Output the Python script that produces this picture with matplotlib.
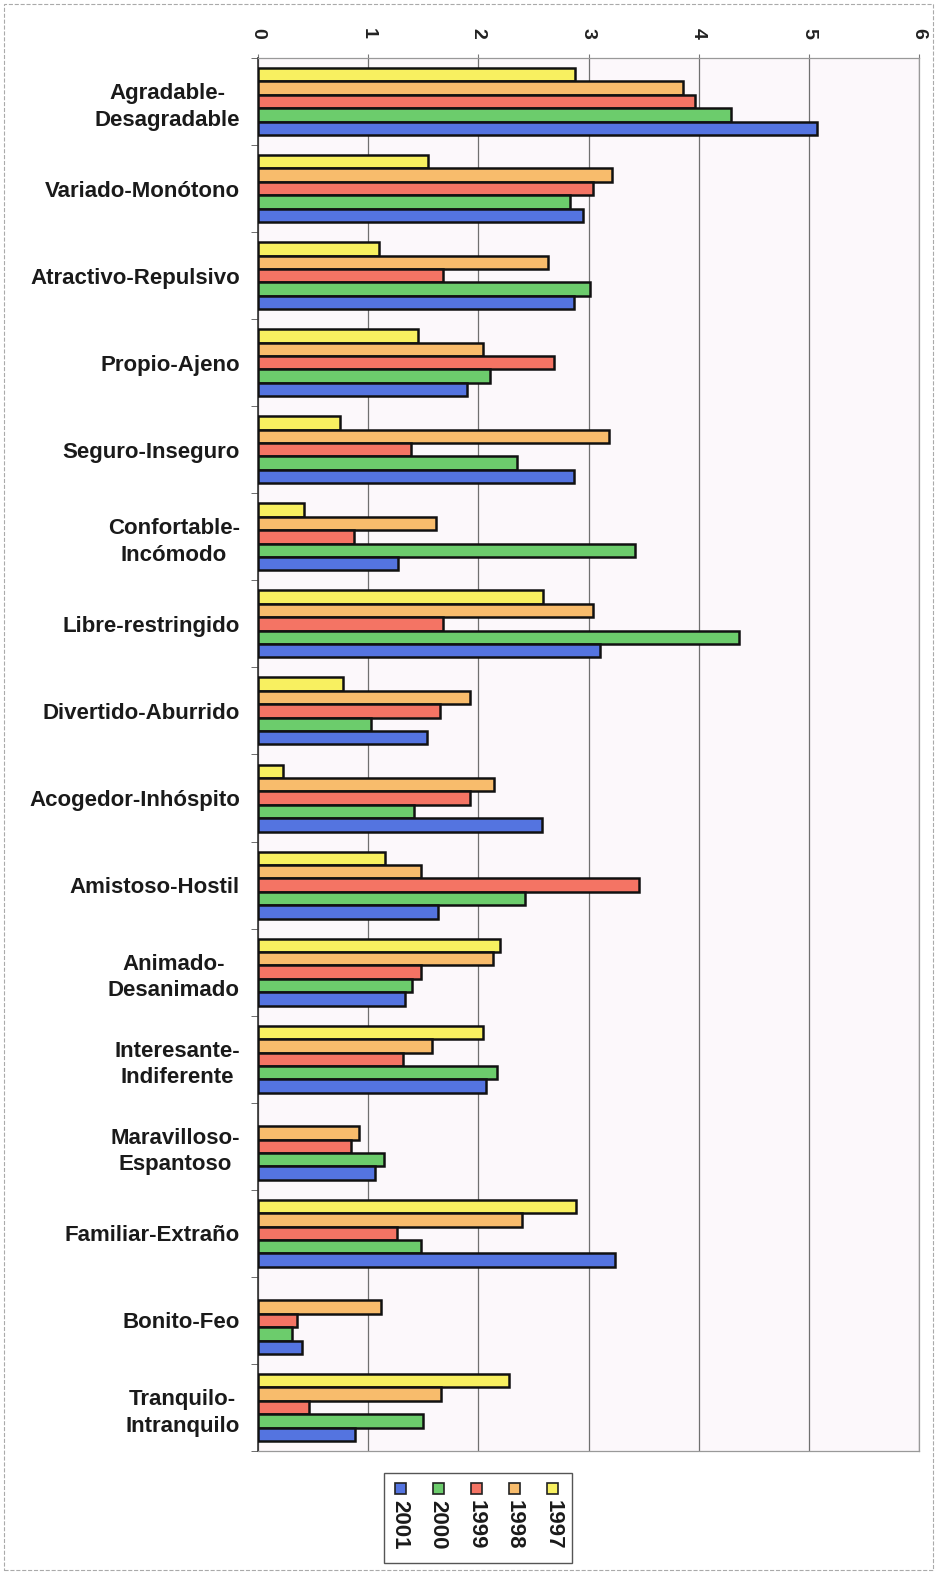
import numpy as np
import matplotlib
matplotlib.use("Agg")
import matplotlib.pyplot as plt
from matplotlib.patches import Rectangle

plt.rcParams['font.family'] = ['Liberation Sans', 'DejaVu Sans']

categories = [
    'Agradable-\nDesagradable', 'Variado-Monótono', 'Atractivo-Repulsivo',
    'Propio-Ajeno', 'Seguro-Inseguro', 'Confortable-\nIncómodo',
    'Libre-restringido', 'Divertido-Aburrido', 'Acogedor-Inhóspito',
    'Amistoso-Hostil', 'Animado-\nDesanimado', 'Interesante-\nIndiferente',
    'Maravilloso-\nEspantoso', 'Familiar-Extraño', 'Bonito-Feo',
    'Tranquilo-\nIntranquilo',
]
years = ['1997', '1998', '1999', '2000', '2001']
v1997 = [2.88, 1.54, 1.10, 1.45, 0.74, 0.42, 2.59, 0.77, 0.23, 1.15, 2.20, 2.04, 0.0, 2.89, 0.0, 2.28]
v1998 = [3.86, 3.21, 2.63, 2.04, 3.19, 1.62, 3.04, 1.92, 2.14, 1.48, 2.13, 1.58, 0.92, 2.40, 1.12, 1.66]
v1999 = [3.97, 3.04, 1.68, 2.69, 1.39, 0.87, 1.68, 1.65, 1.92, 3.46, 1.48, 1.32, 0.84, 1.26, 0.35, 0.46]
v2000 = [4.29, 2.83, 3.01, 2.11, 2.35, 3.42, 4.37, 1.03, 1.42, 2.42, 1.40, 2.17, 1.14, 1.48, 0.31, 1.50]
v2001 = [5.07, 2.95, 2.87, 1.90, 2.87, 1.27, 3.10, 1.53, 2.58, 1.63, 1.33, 2.07, 1.06, 3.24, 0.40, 0.88]
series = [v1997, v1998, v1999, v2000, v2001]
colors = ['#f8f060', '#f8bc6c', '#f47464', '#6ccc6c', '#5474e0']

fig = plt.figure(figsize=(9.37, 15.74), dpi=100)
fig.patch.set_facecolor('white')
ax = fig.add_axes([258 / 937, 1 - 1451 / 1574, 661 / 937, 1393 / 1574])
ax.set_facecolor('#fcf8fb')

y = np.arange(len(categories))
h = 0.154
for i, (vals, col) in enumerate(zip(series, colors)):
    vals = np.array(vals)
    mask = vals > 0
    ax.barh(y[mask] + (i - 2) * h, vals[mask], height=h, color=col,
            edgecolor='#111111', linewidth=1.8, zorder=3)

ax.set_xlim(0, 6)
ax.set_ylim(len(categories) - 0.5, -0.5)
ax.xaxis.tick_top()
ax.set_xticks(range(7))
ax.set_xticklabels([str(t) for t in range(7)], rotation=-90, fontsize=14,
                   fontweight='bold', color='#222222')
ax.tick_params(axis='x', length=3, pad=11, color='#777777')
ax.grid(axis='x', color='#707070', linewidth=0.9, zorder=0)

ax.set_yticks(y)
ax.set_yticklabels(categories, fontsize=16, fontweight='bold', color='#1a1a1a',
                   ha='right', multialignment='center', linespacing=1.35)
ax.tick_params(axis='y', length=0, pad=13)
ax.set_yticks(np.arange(-0.5, len(categories)), minor=True)
ax.tick_params(axis='y', which='minor', length=5, color='#555555')

for side in ['top', 'right', 'bottom']:
    ax.spines[side].set_color('#999999')
    ax.spines[side].set_linewidth(0.9)
ax.spines['left'].set_color('#333333')
ax.spines['left'].set_linewidth(1.2)

# legend, rotated like the original
fig.patches.append(Rectangle((384 / 937, 1 - 1563 / 1574), 188 / 937, 90 / 1574,
                             transform=fig.transFigure, facecolor='white',
                             edgecolor='#555555', linewidth=1.0))
order = list(range(len(years)))[::-1]
for k, idx in enumerate(order):
    cx = (400 + k * 38.2) / 937
    fig.patches.append(Rectangle((cx - 5.5 / 937, 1 - 1494 / 1574), 11 / 937, 11 / 1574,
                                 transform=fig.transFigure, facecolor=colors[idx],
                                 edgecolor='#222222', linewidth=1.2))
    fig.text(cx, 1 - 1500 / 1574, years[idx], rotation=-90, ha='center', va='top',
             fontsize=16, fontweight='bold', color='#1a1a1a')

# outer frame of the scanned chart
fig.patches.append(Rectangle((4 / 937, 4 / 1574), 929 / 937, 1566 / 1574,
                             transform=fig.transFigure, fill=False,
                             edgecolor='#aaaaaa', linewidth=0.8, linestyle='--'))

fig.savefig('out.png', dpi=100)
